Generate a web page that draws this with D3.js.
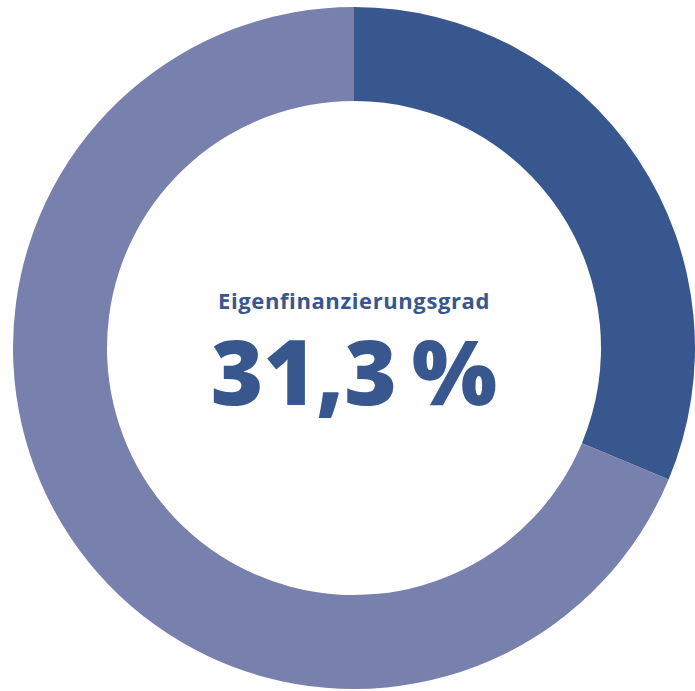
<!DOCTYPE html>
<html><head><meta charset="utf-8">
<script src="https://cdn.jsdelivr.net/npm/d3@7"></script>
<style>html,body{margin:0;padding:0;background:#fff;}</style>
</head><body>
<svg id="chart" width="695" height="691"></svg>
<script>
const categories = ["Eigenfinanzierung", "Fremdfinanzierung"];
const values = [31.3, 68.7];
const colors = ["#38578e", "#7880ad"];
const titleText = "Eigenfinanzierungsgrad";
const valueText = "31,3\u2009%";

const svg = d3.select("#chart");
const cx = 354, cy = 348, rOuter = 341, rInner = 247;
const g = svg.append("g").attr("transform", `translate(${cx},${cy})`);
const pie = d3.pie().sort(null).value(d => d.v);
const arc = d3.arc().innerRadius(rInner).outerRadius(rOuter);
const data = categories.map((c, i) => ({c, v: values[i]}));
g.selectAll("path").data(pie(data)).join("path")
  .attr("d", arc).attr("fill", (d, i) => colors[i]);

g.append("text").attr("x", 0).attr("y", -39).attr("text-anchor", "middle")
  .attr("font-family", "Open Sans").attr("font-weight", 700).attr("font-size", 22)
  .attr("letter-spacing", 0.6)
  .attr("fill", colors[0]).text(titleText);
g.append("text").attr("x", 0).attr("y", 57).attr("text-anchor", "middle")
  .attr("font-family", "Open Sans").attr("font-weight", 800).attr("font-size", 90)
  .attr("fill", colors[0]).text(valueText);
</script>
</body></html>
